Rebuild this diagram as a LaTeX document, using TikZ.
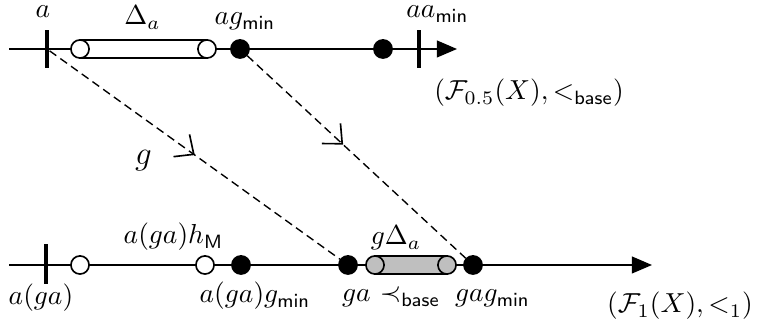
\documentclass[tikz,border=0pt]{standalone}
\usetikzlibrary{arrows.meta,decorations.markings}
\begin{document}
\begin{tikzpicture}[x=0.364pt,y=-0.364pt,
  axis/.style={line width=0.6pt,-{Triangle[length=7.3pt,width=6.1pt]}},
  tickmark/.style={rectangle,fill=black,inner sep=0pt,minimum width=1.5pt,minimum height=14pt},
  dotbase/.style={circle,draw,line width=0.6pt,minimum size=6.6pt,inner sep=0pt},
  opendot/.style={dotbase,fill=white},
  fulldot/.style={dotbase,fill=black},
  graydot/.style={dotbase,fill=gray!50},
  capsule/.style={line width=0.6pt},
  lbl/.style={inner sep=0pt,anchor=base},
  maparrow/.style={line width=0.5pt,dash pattern=on 3pt off 1.8pt,
    postaction={decorate},
    decoration={markings,mark=at position #1 with {\arrow[solid,line width=0.6pt]{Straight Barb[length=5.5pt,width=10pt]}}}}
]
\useasboundingbox (0,0) rectangle (757,335);

% ---------- top axis ----------
\coordinate (tstart) at (9,49);
\coordinate (tend) at (457,49);
\draw[axis] (tstart) -- (tend);
\coordinate (pA) at (80,49);
\coordinate (pB) at (207,49);
\draw[capsule,fill=white] ([yshift=3.3pt]pA) rectangle ([yshift=-3.3pt]pB);
\node[tickmark] (ta) at (47,49) {};
\node[opendot] (oa1) at (pA) {};
\node[opendot] (oa2) at (pB) {};
\node[fulldot] (dagmin) at (240,49) {};
\node[fulldot] (dtop2) at (383,49) {};
\node[tickmark] (taamin) at (419,49) {};

% ---------- bottom axis ----------
\coordinate (bstart) at (9,265);
\coordinate (bend) at (652,265);
\draw[axis] (bstart) -- (bend);
\coordinate (pC) at (375,265);
\coordinate (pD) at (447,265);
\draw[capsule,fill=gray!50] ([yshift=3.3pt]pC) rectangle ([yshift=-3.3pt]pD);
\node[tickmark,minimum height=14.6pt] (tb) at (46,264) {};
\node[opendot] (ob1) at (80,265) {};
\node[opendot] (ob2) at (205,265) {};
\node[fulldot] (dagagmin) at (241,265) {};
\node[fulldot] (dga) at (348,265) {};
\node[graydot] (gc1) at (pC) {};
\node[graydot] (gc2) at (pD) {};
\node[fulldot] (dgagmin) at (473,265) {};

% ---------- maps ----------
\draw[maparrow=0.5] (ta) -- (dga);
\draw[maparrow=0.44] (dagmin) -- (dgagmin);

% ---------- labels ----------
\node[lbl] (la) at (43,18) {$a$};
\node[lbl] (lDelta) at (142.5,25) {$\Delta_a$};
\node[lbl] (lagmin) at (245,25) {$ag_{\mathsf{min}}$};
\node[lbl] (laamin) at (437.5,18) {$aa_{\mathsf{min}}$};
\node[lbl] (lF05) at (529,100) {$(\mathcal{F}_{0.5}(X),<_{\mathsf{base}})$};
\node[lbl,font=\large] (lg) at (143.5,165) {$g$};
\node[lbl] (lagah) at (173.5,244) {$a(ga)h_{\mathsf{M}}$};
\node[lbl] (lgDelta) at (396,245) {$g\Delta_a$};
\node[lbl] (laga) at (41,305) {$a(ga)$};
\node[lbl] (lagagmin) at (255,303) {$a(ga)g_{\mathsf{min}}$};
\node[lbl] (lga) at (356.5,302) {$ga$};
\node[lbl] (lprec) at (410,302) {$\prec_{\mathsf{base}}$};
\node[lbl] (lgagmin) at (492.5,302) {$gag_{\mathsf{min}}$};
\node[lbl] (lF1) at (680,313) {$(\mathcal{F}_1(X),<_1)$};
\end{tikzpicture}
\end{document}
